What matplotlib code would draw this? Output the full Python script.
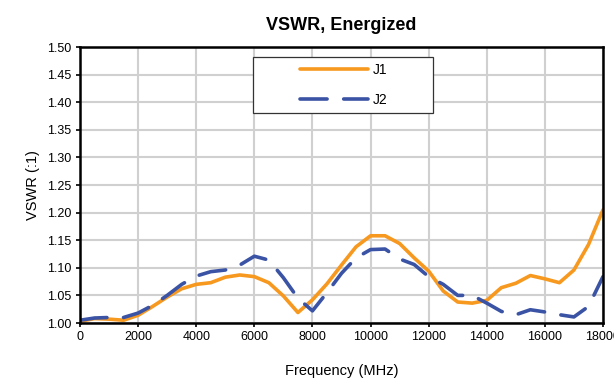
import matplotlib.pyplot as plt
from matplotlib.patches import Rectangle

plt.rcParams['font.family'] = ['Liberation Sans', 'DejaVu Sans']

freq = list(range(0, 18001, 500))
j1 = [1.003, 1.008, 1.007, 1.005, 1.014, 1.030, 1.047, 1.062, 1.070, 1.073,
      1.083, 1.087, 1.084, 1.073, 1.049, 1.019, 1.042, 1.071, 1.105, 1.138,
      1.158, 1.158, 1.144, 1.118, 1.094, 1.058, 1.038, 1.036, 1.041, 1.064,
      1.072, 1.086, 1.080, 1.073, 1.096, 1.142, 1.205]
j2 = [1.005, 1.009, 1.010, 1.010, 1.018, 1.032, 1.050, 1.070, 1.085, 1.093,
      1.096, 1.105, 1.121, 1.114, 1.082, 1.045, 1.022, 1.055, 1.090, 1.118,
      1.133, 1.134, 1.116, 1.106, 1.084, 1.070, 1.050, 1.050, 1.036, 1.021,
      1.015, 1.024, 1.020, 1.015, 1.011, 1.030, 1.084]

fig = plt.figure(figsize=(6.14, 3.81), dpi=100)
ax = fig.add_axes([80 / 614, 1 - 323 / 381, 523 / 614, 276 / 381])

ax.plot(freq, j1, color="#F7981F", lw=2.6, label="J1", solid_capstyle="round", zorder=3)
ax.plot(freq, j2, color="#3A53A4", lw=2.6, label="J2", dashes=(7.5, 4.6),
        dash_capstyle="round", zorder=3)

ax.set_xlim(0, 18000)
ax.set_ylim(1.0, 1.5)
ax.set_xticks(range(0, 18001, 2000))
ax.set_yticks([1.0 + 0.05 * i for i in range(11)])
ax.set_yticklabels([f"{1.0 + 0.05 * i:.2f}" for i in range(11)])
ax.tick_params(labelsize=9, length=3, width=1.2, color="black", pad=3)
ax.grid(True, color="#D0D0D0", lw=1.5)
ax.set_axisbelow(True)
for s in ax.spines.values():
    s.set_linewidth(1.8)
    s.set_color("black")
    s.set_zorder(4)

ax.set_title("VSWR, Energized", fontsize=13, fontweight="bold", pad=12.5)
ax.set_xlabel("Frequency (MHz)", fontsize=10.5, labelpad=15)
ax.set_ylabel("VSWR (:1)", fontsize=10.5, labelpad=5)

# legend box (drawn separately so its padding matches the original)
box = Rectangle((173 / 523, (323 - 113) / 276), 180 / 523, 56 / 276,
                transform=ax.transAxes, facecolor="white", edgecolor="#333333",
                lw=0.9, zorder=5)
ax.add_patch(box)
leg = ax.legend(loc="upper left", bbox_to_anchor=(220 / 523, (323 - 63) / 276),
                fontsize=10, frameon=False, handlelength=4.9,
                borderpad=0, labelspacing=1.15, handletextpad=0.35,
                borderaxespad=0)
leg.set_zorder(6)

fig.savefig("out.png", dpi=100)
